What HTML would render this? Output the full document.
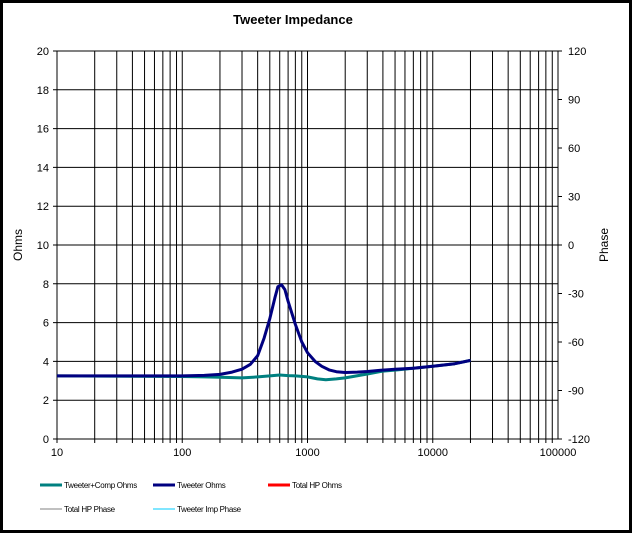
<!DOCTYPE html>
<html><head><meta charset="utf-8"><style>
body{margin:0;background:#fff;}
svg{display:block;font-family:"Liberation Sans",Arial,sans-serif;}
</style></head><body>
<svg id="chart" width="632" height="533">
<rect x="1.5" y="1.5" width="629" height="530" fill="#fff" stroke="#000" stroke-width="3"/>
<text x="293" y="24" text-anchor="middle" font-size="13" font-weight="bold">Tweeter  Impedance</text>
<g id="grid"></g>
<g id="axes"></g>
<g id="series"></g>
<text transform="translate(22,245) rotate(-90)" text-anchor="middle" font-size="12">Ohms</text>
<text transform="translate(608,245) rotate(-90)" text-anchor="middle" font-size="12">Phase</text>
<g id="legend" font-size="8"></g>
</svg>
<script>
const yTicks=[0,2,4,6,8,10,12,14,16,18,20];
const y2Ticks=[-120,-90,-60,-30,0,30,60,90,120];
const xTicks=[10,100,1000,10000,100000];
const tweeterFreq=[10,100,150,200,250,300,350,400,450,500,550,580,620,660,700,800,900,1000,1150,1300,1500,1700,2000,2500,3000,4000,5000,7000,10000,15000,20000];
const tweeterOhms=[3.25,3.25,3.28,3.33,3.45,3.6,3.85,4.3,5.2,6.2,7.3,7.85,7.95,7.7,7.1,5.9,5.0,4.45,4.0,3.75,3.55,3.47,3.43,3.45,3.48,3.55,3.6,3.65,3.75,3.88,4.05];
const compFreq=[10,100,150,200,300,400,500,600,700,800,1000,1200,1400,1700,2000,3000,4000,5000,7000,10000,15000,20000];
const compOhms=[3.25,3.22,3.2,3.18,3.15,3.2,3.25,3.3,3.27,3.25,3.2,3.1,3.05,3.1,3.15,3.35,3.5,3.55,3.65,3.75,3.88,4.05];
const L=57,R=558,T=51,B=439;
const ns="http://www.w3.org/2000/svg";
function X(f){return L+(Math.log10(f)-1)/4*(R-L);}
function Y(v){return B-v/20*(B-T);}
function Y2(p){return B-(p+120)/240*(B-T);}
function mk(tag,attrs,parent){const e=document.createElementNS(ns,tag);for(const k in attrs)e.setAttribute(k,attrs[k]);parent.appendChild(e);return e;}
const grid=document.getElementById('grid'),axes=document.getElementById('axes'),series=document.getElementById('series'),legend=document.getElementById('legend');
for(let d=10;d<100000;d*=10){for(let m=1;m<=9;m++){const x=X(d*m);
const g=mk('line',{x1:x,x2:x,y1:T,y2:B+4,stroke:'#000','stroke-width':1},grid);

}}
yTicks.forEach(v=>{const y=Y(v);
const g=mk('line',{x1:L-4,x2:R,y1:y,y2:y,stroke:'#000','stroke-width':1},grid);


const t=mk('text',{x:L-8,y:y+4,'text-anchor':'end','font-size':11},axes);t.textContent=v;

});
y2Ticks.forEach(v=>{const y=Y2(v);
const tk=mk('line',{x1:R,x2:R+4,y1:y,y2:y,stroke:'#000'},axes);


const t=mk('text',{x:R+10,y:y+4,'font-size':11},axes);t.textContent=v;

});
xTicks.forEach(f=>{const t=mk('text',{x:X(f),y:B+17,'text-anchor':'middle','font-size':11},axes);t.textContent=f;

});
const box=mk('rect',{x:L,y:T,width:R-L,height:B-T,fill:'none',stroke:'#000','stroke-width':1},axes);


function path(fr,vals,color,name){const d=fr.map((f,i)=>(i?'L':'M')+X(f).toFixed(1)+','+Y(vals[i]).toFixed(1)).join(' ');
const p=mk('path',{d:d,fill:'none',stroke:color,'stroke-width':3,'stroke-linejoin':'round'},series);

}
path(compFreq,compOhms,'#008080','tweeter-comp-ohms-line');
path(tweeterFreq,tweeterOhms,'#000080','tweeter-ohms-line');
const leg=[['Tweeter+Comp Ohms','#008080',3,40,485],['Tweeter Ohms','#000080',3,153,485],['Total HP Ohms','#ff0000',3,268,485],['Total HP Phase','#808080',1,40,509],['Tweeter Imp Phase','#00ccff',1,153,509]];
leg.forEach(e=>{const g=mk('g',{},legend);


mk('line',{x1:e[3],x2:e[3]+22,y1:e[4],y2:e[4],stroke:e[1],'stroke-width':e[2]},g);
const t=mk('text',{x:e[3]+24,y:e[4]+3,'letter-spacing':'-0.3'},g);t.textContent=e[0];});
</script>
</body></html>
